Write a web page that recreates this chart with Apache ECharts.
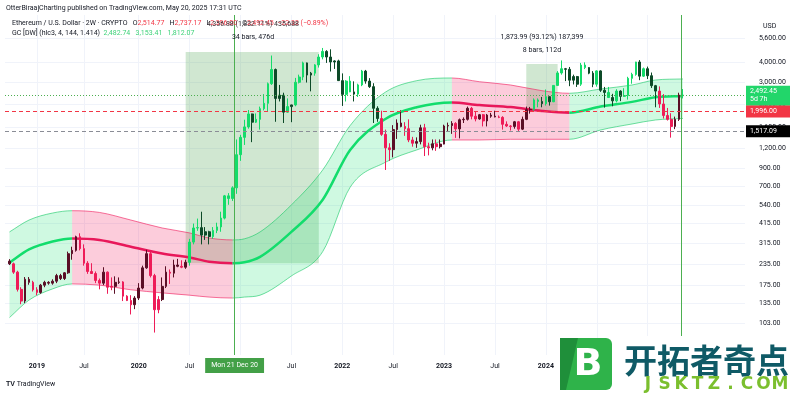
<!DOCTYPE html>
<html><head><meta charset="utf-8">
<script src="https://cdn.jsdelivr.net/npm/echarts@6/dist/echarts.min.js"></script>
<style>html,body{margin:0;padding:0;background:#fff}#c{width:800px;height:395px}</style>
</head><body><div id="c"></div><script>
// ---------- DATA ----------
const firstCandle = '2018-10-08';
const stepDays = 14; // 2W candles
const opens = [245,236,210,165,140,190,182,164,158,175,182,180,185,200,192,208,272,285,345,292,
238,212,206,187,180,210,170,172,182,183,150,141,133,146,168,223,272,200,124,143,
172,210,207,232,228,225,241,320,390,392,353,370,346,377,396,448,612,590,685,1090,
1390,1610,1930,1720,1790,2080,2240,2950,3600,2400,2510,1980,2140,2190,3010,3240,3950,3330,3420,3840,
4290,4640,4290,4000,4060,3080,2540,3060,2630,2550,2900,3520,3060,2830,2090,1810,1450,1200,1170,1550,
1700,1620,1570,1340,1280,1310,1590,1220,1200,1270,1220,1265,1630,1640,1690,1565,1780,1790,2090,1870,
1800,1910,1750,1900,1870,1850,1840,1670,1630,1620,1730,1560,1790,2050,2060,2350,2300,2230,2460,2290,
2880,3430,3640,3610,3100,3260,2930,3830,3700,3420,2930,3530,2690,2610,2430,2320,2660,2470,2500,3180,
3360,4000,3280,3640,3300,2870,2660,2220,1890,1790,1620,1790,2514.77];
const highs = [252,240,214,170,196,196,186,170,178,186,185,190,205,205,210,280,300,350,362,310,
245,238,212,192,225,212,195,198,195,185,152,152,150,180,230,287,280,205,150,195,
228,218,250,253,248,250,335,415,445,490,395,375,395,420,490,620,636,700,1350,1440,
1780,2040,1940,1945,2140,2550,3000,4380,3650,2900,2600,2400,2200,3200,3350,4020,3970,3480,3880,4460,
4870,4720,4780,4100,4130,3410,3100,3280,3050,2950,3580,3580,3190,2970,2150,2020,1550,1280,1650,1790,
2030,1720,1790,1400,1390,1660,1680,1290,1350,1350,1350,1660,1710,1745,1720,1810,1840,2140,2130,2010,
1930,1930,1930,1960,2020,1890,1870,1740,1650,1750,1750,1860,2140,2130,2400,2400,2450,2720,2470,2890,
3520,4090,3680,3730,3350,3290,3950,3980,3720,3520,3560,3560,2820,2820,2560,2730,2690,2770,3250,3440,
4010,4110,3700,3750,3450,2900,2840,2550,2100,1950,1860,2600,2737.17];
const lows = [232,205,160,134,136,176,160,152,155,170,176,176,180,188,188,205,250,280,285,230,
205,205,180,165,175,155,163,155,178,140,140,116,125,142,165,220,195,90,118,140,
168,178,195,225,222,220,230,310,375,310,330,310,335,363,370,440,540,570,630,1000,
1250,1570,1300,1700,1550,2030,2000,2900,1730,2300,1700,1960,1720,2150,2960,3100,3000,2650,3300,3700,
4150,3950,3500,3630,3070,2160,2300,2620,2300,2450,2850,2950,2780,1700,1730,1420,880,1000,1050,1360,
1600,1420,1300,1220,1200,1260,1070,1080,1160,1150,1190,1260,1520,1460,1380,1370,1700,1760,1790,1740,
1780,1620,1620,1830,1840,1820,1550,1610,1530,1570,1520,1540,1770,1940,2020,2120,2120,2170,2170,2280,
2870,3350,3060,2850,2920,2820,2860,3620,3370,2810,2830,2630,2110,2420,2150,2270,2310,2450,2360,2950,
3300,3100,3240,3150,2780,2120,2100,1810,1760,1385,1560,1750,2400];
const closes = [236,210,165,140,190,182,164,158,175,182,180,185,200,192,208,272,285,345,292,238,
212,206,187,180,210,170,172,182,183,150,141,133,146,168,223,272,200,124,143,172,
210,207,232,228,225,241,320,390,392,353,370,346,377,396,448,612,590,685,1090,1390,
1610,1930,1720,1790,2080,2240,2950,3600,2400,2510,1980,2140,2190,3010,3240,3950,3330,3420,3840,4290,
4640,4290,4000,4060,3080,2540,3060,2630,2550,2900,3520,3060,2830,2090,1810,1450,1200,1170,1550,1700,
1620,1570,1340,1280,1310,1590,1220,1200,1270,1220,1265,1630,1640,1690,1565,1780,1790,2090,1870,1800,
1910,1750,1900,1870,1850,1840,1670,1630,1620,1730,1560,1790,2050,2060,2350,2300,2230,2460,2290,2880,
3430,3640,3610,3100,3260,2930,3830,3700,3420,2930,3530,2690,2610,2430,2320,2660,2470,2500,3180,3360,
4000,3280,3640,3300,2870,2660,2220,1890,1790,1620,1790,2514.77,2492.45];

// Gaussian channel read at sample candles (candle index)
const bandIdx   = [0,5,11,16,23,31,39,46,51,57,60,64,72,80,87,96,104,113,120,128,136,143,151,159,165,172];
const bandMid   = [240,289,323,337,330,300,273,258,243,238,241,260,369,580,1165,1800,2121,2268,2187,2125,2014,1966,2140,2287,2441,2482.74];
const bandUpper = [369,436,481,497,485,436,390,364,339,330,335,369,539,880,1640,2620,3078,3196,3034,2897,2675,2579,2739,2897,3108,3153.41];
const bandLower = [111,142,166,178,175,164,157,152,148,146,148,152,199,280,690,980,1165,1340,1340,1353,1353,1353,1542,1677,1774,1812.07];
const bandSegments = [[0,16,'up'],[16,57,'down'],[57,113,'up'],[113,143,'down'],[143,172,'up']];

// measure boxes
const rectStart = ['2020-06-29','2023-10-30'];
const rectEnd   = ['2021-10-18','2024-02-19'];
const rectLow   = [237.81, 2012.0];
const rectHigh  = [4594.69, 3885.99];

// axis ticks
const yTicks = [103,135,175,235,315,415,540,700,900,1200,1600,2200,3000,4000,5600];
const xTickDates  = ['2019-01-14','2019-07-01','2020-01-13','2020-07-13','2021-01-11','2021-07-12','2022-01-10','2022-07-11','2023-01-09','2023-07-10','2024-01-08','2024-07-08','2025-01-06'];
const xTickLabels = ['2019','Jul','2020','Jul','2021','Jul','2022','Jul','2023','Jul','2024','Jul','2025'];

// price lines
const priceLevels = [2492.45, 1996.00, 1517.09];
const priceLabels = ['2,492.45\n5d 7h', '1,996.00', '1,517.09'];
const crossDate = '2020-12-21', nowDate = '2025-05-05';

// ---------- BUILD ----------
const FONT = 'Roboto, "Noto Sans", sans-serif';
const DAY = 86400000;
function d(s){ const p = s.split('-').map(Number); return Date.UTC(p[0], p[1]-1, p[2]); }
const dates = opens.map((_, i) => d(firstCandle) + i * stepDays * DAY);
const bandTimes = bandIdx.map(i => dates[i]);

const C_UP = '#14dc6a', C_UP_DARK = '#0d4a28', C_DN = '#ee1c58', C_DN_DARK = '#5a0f26';
function filtAt(i){
  for (let k = 0; k < bandIdx.length - 1; k++) {
    if (i >= bandIdx[k] && i <= bandIdx[k+1]) {
      const f = (i - bandIdx[k]) / (bandIdx[k+1] - bandIdx[k]);
      return bandMid[k] + (bandMid[k+1] - bandMid[k]) * f;
    }
  }
  return bandMid[bandMid.length - 1];
}
const candleData = opens.map((o, i) => {
  const src = (highs[i] + lows[i] + closes[i]) / 3;
  const prev = i > 0 ? (highs[i-1] + lows[i-1] + closes[i-1]) / 3 : src;
  const f = filtAt(i);
  const col = src > f ? (src > prev ? C_UP : C_UP_DARK) : (src < prev ? C_DN : C_DN_DARK);
  return { value: [dates[i], o, closes[i], lows[i], highs[i]],
           itemStyle: { color: col, color0: col, borderColor: col, borderColor0: col } };
});

// monotone cubic tangents on pixel points
function tangents(p) {
  const n = p.length, s = [], m = new Array(n);
  for (let i = 0; i < n - 1; i++) s.push((p[i+1][1] - p[i][1]) / (p[i+1][0] - p[i][0]));
  m[0] = s[0]; m[n-1] = s[n-2];
  for (let i = 1; i < n - 1; i++) m[i] = (s[i-1] * s[i] <= 0) ? 0 : (s[i-1] + s[i]) / 2;
  for (let i = 0; i < n - 1; i++) {
    if (s[i] === 0) { m[i] = 0; m[i+1] = 0; continue; }
    const a = m[i] / s[i], b = m[i+1] / s[i], h = a * a + b * b;
    if (h > 9) { const t = 3 / Math.sqrt(h); m[i] = t * a * s[i]; m[i+1] = t * b * s[i]; }
  }
  return m;
}
function curve(p, m, from, to) {
  let out = '';
  if (from < to) {
    for (let i = from; i < to; i++) {
      const dx = (p[i+1][0] - p[i][0]) / 3;
      out += ` C${p[i][0] + dx} ${p[i][1] + m[i] * dx} ${p[i+1][0] - dx} ${p[i+1][1] - m[i+1] * dx} ${p[i+1][0]} ${p[i+1][1]}`;
    }
  } else {
    for (let i = from; i > to; i--) {
      const dx = (p[i][0] - p[i-1][0]) / 3;
      out += ` C${p[i][0] - dx} ${p[i][1] - m[i] * dx} ${p[i-1][0] + dx} ${p[i-1][1] + m[i-1] * dx} ${p[i-1][0]} ${p[i-1][1]}`;
    }
  }
  return out;
}

const series = [{
  type: 'custom', z: 1, silent: true,
  data: bandSegments.map((s, i) => [dates[s[0]], bandMid[bandIdx.indexOf(s[0])], i]),
  encode: { x: 0, y: 1 },
  renderItem: (params, api) => {
    const seg = bandSegments[api.value(2)];
    const up = seg[2] === 'up';
    const P = arr => bandTimes.map((t, k) => api.coord([t, arr[k]]));
    const pu = P(bandUpper), pm = P(bandMid), pl = P(bandLower);
    const mu = tangents(pu), mm = tangents(pm), ml = tangents(pl);
    const ka = bandIdx.indexOf(seg[0]), kb = bandIdx.indexOf(seg[1]);
    const M = p => `M${p[0]} ${p[1]}`;
    const fillPath = M(pu[ka]) + curve(pu, mu, ka, kb) + ` L${pl[kb][0]} ${pl[kb][1]}` + curve(pl, ml, kb, ka) + ' Z';
    const edge = up ? 'rgba(20,200,100,0.6)' : 'rgba(240,24,90,0.6)';
    const fill = up ? 'rgba(16,224,106,0.2)' : 'rgba(240,24,90,0.22)';
    const midc = up ? '#12dd6c' : '#e8185a';
    return { type: 'group', children: [
      { type: 'path', shape: { pathData: fillPath }, style: { fill: fill, stroke: null } },
      { type: 'path', shape: { pathData: M(pu[ka]) + curve(pu, mu, ka, kb) }, style: { fill: null, stroke: edge, lineWidth: 1 } },
      { type: 'path', shape: { pathData: M(pl[ka]) + curve(pl, ml, ka, kb) }, style: { fill: null, stroke: edge, lineWidth: 1 } },
      { type: 'path', shape: { pathData: M(pm[ka]) + curve(pm, mm, ka, kb) }, style: { fill: null, stroke: midc, lineWidth: 2.5 } }
    ] };
  }
}];

series.push({
  type: 'candlestick', z: 3, barWidth: 2.2,
  encode: { x: 0, y: [1, 2, 3, 4] },
  itemStyle: { borderWidth: 1 },
  data: candleData,
  markArea: { silent: true, itemStyle: { color: 'rgba(67,160,71,0.25)' },
    data: rectStart.map((s, i) => [{ coord: [d(s), rectLow[i]] }, { coord: [d(rectEnd[i]), rectHigh[i]] }]) }
});

// price level lines, each its own carrier series so the colours stick
const levelStyle = [
  { color: '#4caf50', type: [1, 2], bg: '#22d66a' },
  { color: '#f23645', type: [4, 3], bg: '#f23645' },
  { color: '#8a8d96', type: [4, 3], bg: '#000000' }
];
priceLevels.forEach((v, i) => {
  const st = levelStyle[i];
  series.push({ type: 'line', data: [], color: st.color, z: 5, silent: true,
    markLine: { silent: true, symbol: 'none', animation: false,
      lineStyle: { color: st.color, type: st.type, width: 1, opacity: 1 },
      label: { show: true, position: 'end', distance: 1, formatter: priceLabels[i],
        backgroundColor: st.bg, color: '#fff', fontSize: 7, fontFamily: FONT, padding: [2, 4, 2, 4],
        lineHeight: 8, width: 36, align: 'left' },
      data: [{ yAxis: v }] } });
});
series.push({ type: 'line', data: [], color: '#4caf50', z: 5, silent: true,
  markLine: { silent: true, symbol: 'none', animation: false,
    lineStyle: { color: '#4caf50', type: 'solid', width: 1, opacity: 1 },
    data: [
      { xAxis: d(crossDate), label: { show: true, position: 'start', distance: 3, formatter: 'Mon 21 Dec 20',
          backgroundColor: '#43a047', color: '#fff', fontSize: 7, fontFamily: FONT, padding: [4, 6, 4, 6] } },
      { xAxis: d(nowDate), label: { show: false } }
    ] } });

const xTickVals = xTickDates.map(d);
const option = {
  animation: false,
  backgroundColor: '#ffffff',
  textStyle: { fontFamily: FONT },
  grid: { left: 5, right: 55, top: 15, bottom: 40 },
  xAxis: {
    type: 'value', min: d('2018-09-22'), max: d('2025-12-20'),
    axisLine: { show: false }, axisTick: { show: false, customValues: xTickVals },
    splitLine: { show: true, lineStyle: { color: '#f0f3fa', width: 1 } },
    axisLabel: { customValues: xTickVals, margin: 8, fontSize: 7, color: '#131722', fontFamily: FONT,
      formatter: v => { const i = xTickVals.indexOf(v); const t = i >= 0 ? xTickLabels[i] : '';
        return t === 'Jul' ? t : '{b|' + t + '}'; },
      rich: { b: { fontWeight: 'bold', fontSize: 7, color: '#131722', fontFamily: FONT } } }
  },
  yAxis: {
    type: 'log', logBase: 10, position: 'right', min: 65.7, max: 7732,
    axisLine: { show: false }, axisTick: { show: false, customValues: yTicks },
    splitLine: { show: true, lineStyle: { color: '#f0f3fa', width: 1 } },
    axisLabel: { customValues: yTicks, margin: 14, align: 'left', fontSize: 7, color: '#131722', fontFamily: FONT,
      formatter: v => Number(v).toLocaleString('en-US', { minimumFractionDigits: 2, maximumFractionDigits: 2 }) }
  },
  series: series,
  graphic: [
    { type: 'text', left: 6, top: 5, z: 10, style: { text: 'OtterBiraajCharting published on TradingView.com, May 20, 2025 17:31 UTC', fontSize: 7, fill: '#131722', fontFamily: FONT } },
    { type: 'text', left: 12, top: 20, z: 10, style: { fontFamily: FONT, fontSize: 7,
      text: '{d|Ethereum / U.S. Dollar · 2W · CRYPTO}   {d|O}{r|2,514.77}   {d|H}{r|2,737.17}   {d|L}{r|2,396.00}   {d|C}{r|2,492.45}  {r|−22.32 (−0.89%)}',
      rich: { d: { fill: '#131722', fontSize: 7, fontFamily: FONT }, r: { fill: '#f23645', fontSize: 7, fontFamily: FONT } } } },
    { type: 'text', left: 12, top: 30, z: 10, style: { fontFamily: FONT, fontSize: 7,
      text: '{d|GC [DW] (hlc3, 4, 144, 1.414)}  {g|2,482.74}   {g|3,153.41}   {g|1,812.07}',
      rich: { d: { fill: '#131722', fontSize: 7, fontFamily: FONT }, g: { fill: '#3fd27a', fontSize: 7, fontFamily: FONT } } } },
    { type: 'text', x: 253, y: 24, z: 11, style: { text: '4,356.88 (1,832.11%) 435,688', align: 'center', verticalAlign: 'middle', fontSize: 7, fill: '#3a2e33', fontFamily: FONT } },
    { type: 'text', x: 253, y: 37, z: 11, style: { text: '34 bars, 476d', align: 'center', verticalAlign: 'middle', fontSize: 7, fill: '#131722', fontFamily: FONT } },
    { type: 'text', x: 542, y: 37, z: 11, style: { text: '1,873.99 (93.12%) 187,399', align: 'center', verticalAlign: 'middle', fontSize: 7, fill: '#131722', fontFamily: FONT } },
    { type: 'text', x: 542, y: 50, z: 11, style: { text: '8 bars, 112d', align: 'center', verticalAlign: 'middle', fontSize: 7, fill: '#131722', fontFamily: FONT } },
    { type: 'rect', shape: { x: 746, y: 14, width: 54, height: 20 }, z: 10, style: { fill: '#ffffff' } },
    { type: 'text', x: 763, y: 26, z: 11, style: { text: 'USD', verticalAlign: 'middle', fontSize: 7, fill: '#131722', fontFamily: FONT } },
    { type: 'text', x: 6, y: 384, z: 11, style: { text: '{l|TV} TradingView', verticalAlign: 'middle', fontSize: 7, fill: '#131722', fontFamily: FONT,
      rich: { l: { fontWeight: 'bold', fontSize: 7, fill: '#131722' } } } },
    // watermark
    { type: 'rect', shape: { x: 614, y: 336, width: 186, height: 59 }, z: 19, style: { fill: '#ffffff' } },
    { type: 'rect', shape: { x: 560, y: 338, width: 52, height: 52, r: 6 }, z: 20, style: { fill: '#2fb34a' } },
    { type: 'polygon', shape: { points: [[560, 338], [578, 338], [566, 390], [560, 390]] }, z: 20, style: { fill: '#1f8f3a' } },
    { type: 'text', x: 588, y: 365, z: 21, style: { text: 'B', align: 'center', verticalAlign: 'middle', fontSize: 38, fontWeight: 'bold', fill: '#ffffff', fontFamily: 'DejaVu Sans' } },
    { type: 'text', x: 624, y: 360, z: 20, style: { text: '开拓者奇点', verticalAlign: 'middle', fontSize: 33, fontWeight: 'bold', fill: '#0f5a66', fontFamily: '"Noto Sans CJK SC"' } }
  ].concat('JSKTZ.COM'.split('').map((ch, i) => ({ type: 'text', x: 648 + i * 16.5, y: 385, z: 20,
      style: { text: ch, align: 'center', verticalAlign: 'middle', fontSize: 17, fontWeight: 'bold', fill: '#7bbf2e', fontFamily: 'DejaVu Sans' } })))
};
const chart = echarts.init(document.getElementById('c'));
chart.setOption(option);
</script></body></html>
